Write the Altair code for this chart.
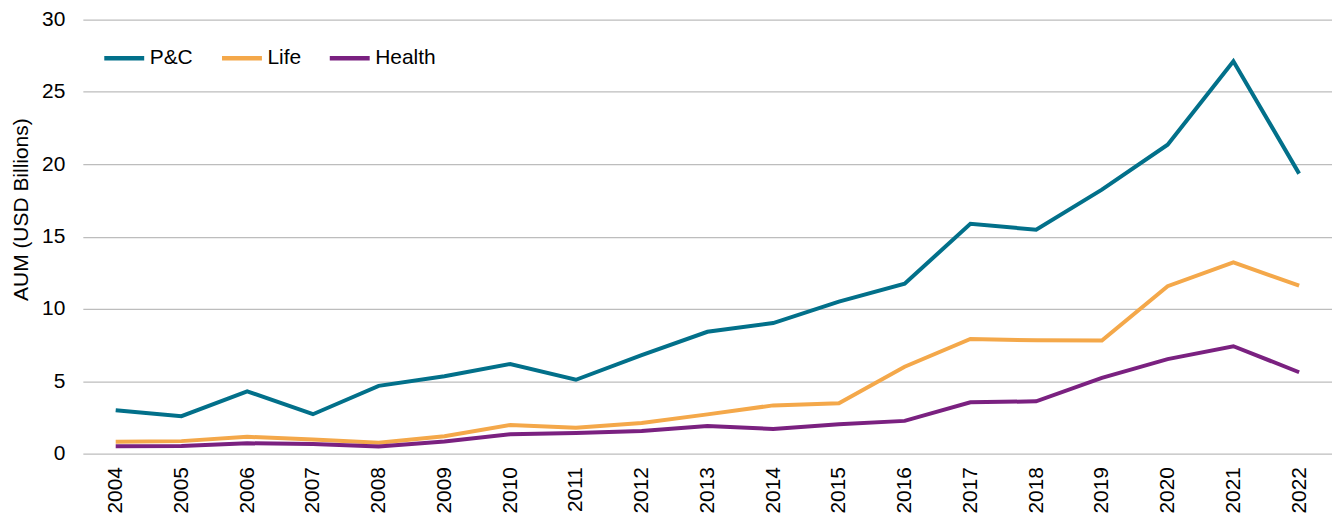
import altair as alt
import pandas as pd

years = [str(y) for y in range(2004, 2023)]
series_names = ["P&C", "Life", "Health"]
pc_values = [3.0, 2.58, 4.3, 2.72, 4.68, 5.34, 6.19, 5.1, 6.8, 8.42, 9.02, 10.5, 11.74, 15.88, 15.47, 18.24, 21.35, 27.12, 19.35]
life_values = [0.82, 0.86, 1.16, 0.97, 0.74, 1.2, 1.97, 1.78, 2.12, 2.71, 3.33, 3.47, 6.0, 7.92, 7.83, 7.82, 11.57, 13.22, 11.6]
health_values = [0.51, 0.52, 0.71, 0.66, 0.49, 0.83, 1.33, 1.42, 1.56, 1.9, 1.7, 2.02, 2.26, 3.54, 3.61, 5.23, 6.53, 7.42, 5.62]
colors = ["#02708A", "#F4A84A", "#7A2180"]
y_ticks = [0, 5, 10, 15, 20, 25, 30]

rows = []
for name, vals in zip(series_names, [pc_values, life_values, health_values]):
    for yr, v in zip(years, vals):
        rows.append({"Year": yr, "Type": name, "AUM": v})
df = pd.DataFrame(rows)

FONT = "Liberation Sans"
FS = 21

chart = alt.Chart(df).mark_line(strokeWidth=4).encode(
    x=alt.X("Year:O", sort=years, title=None,
            axis=alt.Axis(labelAngle=270, labelFontSize=FS, labelFont=FONT, labelColor="#000000",
                          ticks=False, domain=False, grid=False, labelPadding=13)),
    y=alt.Y("AUM:Q", title="AUM (USD Billions)",
            scale=alt.Scale(domain=[0, 30], nice=False, zero=True),
            axis=alt.Axis(values=y_ticks, labelFontSize=FS, labelFont=FONT, labelColor="#000000",
                          titleFontSize=FS, titleFont=FONT, titleFontWeight="normal", titleColor="#000000",
                          titleY=190,
                          ticks=False, domain=False, grid=True, gridColor="#BDBDBD", gridWidth=1.3,
                          labelPadding=18, titlePadding=10)),
    color=alt.Color("Type:N", sort=series_names,
                    scale=alt.Scale(domain=series_names, range=colors),
                    legend=alt.Legend(title=None, orient="none", legendX=19, legendY=16,
                                      direction="horizontal", symbolType="stroke",
                                      symbolSize=1600, symbolStrokeWidth=4.5,
                                      labelFontSize=FS, labelFont=FONT, labelColor="#000000",
                                      labelOffset=3, columnPadding=19)),
    order=alt.Order("Type:N"),
).properties(
    width=1252, height=435,
    padding={"left": 2, "top": 0, "right": 0, "bottom": 0},
).configure_view(stroke=None)

chart.save("out.html", embed_options={"renderer": "svg", "actions": False})
